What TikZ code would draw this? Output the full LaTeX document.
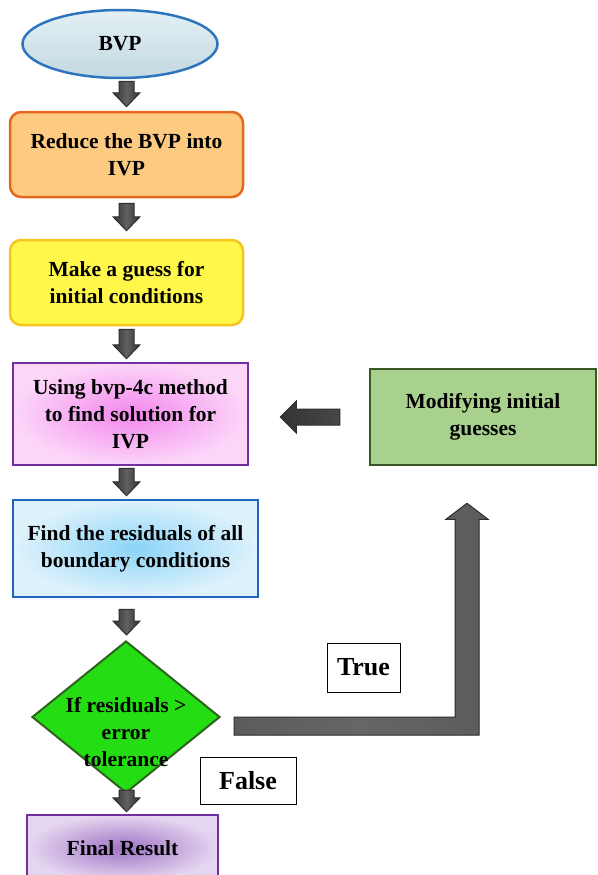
\documentclass[tikz,border=0pt]{standalone}
\usepackage{fontspec}
\setmainfont{Liberation Serif}
\usetikzlibrary{shapes.geometric,calc}

\definecolor{bvpfill}{RGB}{205,228,236}
\definecolor{bvpline}{RGB}{46,117,190}
\definecolor{orfill}{RGB}{252,202,128}
\definecolor{orline}{RGB}{228,104,30}
\definecolor{yefill}{RGB}{255,248,74}
\definecolor{yeline}{RGB}{246,196,30}
\definecolor{pkin}{RGB}{242,135,236}
\definecolor{pkout}{RGB}{252,214,249}
\definecolor{purline}{RGB}{112,48,160}
\definecolor{blin}{RGB}{140,212,247}
\definecolor{blout}{RGB}{222,242,252}
\definecolor{blline}{RGB}{31,100,193}
\definecolor{grfill}{RGB}{36,221,18}
\definecolor{grline}{RGB}{44,100,30}
\definecolor{lvin}{RGB}{160,114,196}
\definecolor{lvout}{RGB}{228,214,240}
\definecolor{mdfill}{RGB}{169,209,142}
\definecolor{mdline}{RGB}{56,87,35}

\tikzset{
  every node/.style={font=\fontsize{21.5}{27}\selectfont\bfseries, align=center, inner sep=0pt},
  stepbox/.style={draw, line width=2.5pt, minimum width=#1},
  tagbox/.style={draw=black, line width=1pt, fill=white, font=\fontsize{26}{30}\selectfont\bfseries},
  blockarrow/.style={draw=black!82, line width=1pt, left color=black!80, right color=black!80, middle color=black!62},
}

% small block arrow pointing down, from #1 to tip #2
\newcommand{\downblock}[2]{%
  \path[blockarrow] let \p1=#1, \p2=#2 in
    (\x1-7.5pt,\y1) -- (\x1+7.5pt,\y1) -- (\x1+7.5pt,\y2+14pt) -- (\x1+13.5pt,\y2+14pt)
    -- (\x1,\y2) -- (\x1-13.5pt,\y2+14pt) -- (\x1-7.5pt,\y2+14pt) -- cycle;}

\begin{document}
\begin{tikzpicture}[x=1pt,y=-1pt]
\useasboundingbox (0,0) rectangle (597,875);
\coordinate (spine) at (126.5,0);

% main column
\node[ellipse, draw=bvpline, line width=2.5pt, top color=bvpfill!55!white, bottom color=bvpfill!95!black,
      minimum width=195, minimum height=68] (bvp) at (120,44) {BVP};
\node[stepbox=233, draw=orline, fill=orfill, rounded corners=11pt, minimum height=85] (reduce) at (126.5,154.5)
  {Reduce the BVP into\\IVP};
\node[stepbox=233, draw=yeline, fill=yefill, rounded corners=11pt, minimum height=85] (guess) at (126.5,282.5)
  {Make a guess for\\initial conditions};
\node[stepbox=235, draw=purline, inner color=pkin, outer color=pkout, minimum height=102] (solve) at (130.5,414)
  {Using bvp-4c method\\to find solution for\\IVP};
\node[stepbox=245, draw=blline, inner color=blin, outer color=blout, minimum height=97] (resid) at (135.5,548.5)
  {Find the residuals of all\\boundary conditions};
\node[diamond, draw=grline, line width=2pt, fill=grfill, minimum width=188, minimum height=152] (check) at (126,717) {};
\node (checktxt) at ([yshift=-15pt]check.center) {If residuals >\\error\\tolerance};
\node[stepbox=191, draw=purline, inner color=lvin, outer color=lvout, minimum height=66] (final) at (122.5,848)
  {Final Result};

% side branch
\node[stepbox=226, draw=mdline, fill=mdfill, minimum height=96] (modify) at (483,417)
  {Modifying initial\\guesses};
\node[tagbox, minimum width=73, minimum height=49] (truelbl) at (363.5,667.5) {True};
\node[tagbox, minimum width=96, minimum height=47] (falselbl) at (248,780.5) {False};

% arrows down the column
\downblock{([yshift=-2pt]bvp.south -| spine)}{([yshift=4pt]reduce.north -| spine)}
\downblock{([yshift=-5pt]reduce.south -| spine)}{([yshift=8pt]guess.north -| spine)}
\downblock{([yshift=-3pt]guess.south -| spine)}{([yshift=3pt]solve.north -| spine)}
\downblock{([yshift=-2pt]solve.south -| spine)}{([yshift=3pt]resid.north -| spine)}
\downblock{([yshift=-11pt]resid.south -| spine)}{([yshift=5pt]check.north -| spine)}
\downblock{([yshift=4pt]check.south -| spine)}{([yshift=2pt]final.north -| spine)}

% loop back to the solver
\path[blockarrow, left color=black!80, middle color=black!45, right color=black!72]
  let \p1=([xshift=-29pt]modify.west), \p2=([xshift=31pt]solve.east) in
  (\x1,\y1+8pt) -- (\x2+16pt,\y1+8pt) -- (\x2+16pt,\y1+16pt) -- (\x2,\y1)
  -- (\x2+16pt,\y1-16pt) -- (\x2+16pt,\y1-8pt) -- (\x1,\y1-8pt) -- cycle;
\path[blockarrow, fill=black!64, left color=black!64, right color=black!64, middle color=black!60]
  let \p1=([xshift=13pt,yshift=-9pt]check.east), \p2=([xshift=-16pt,yshift=-37pt]modify.south) in
  (\x1,\y1+9pt) -- (\x2-12pt,\y1+9pt) -- (\x2-12pt,\y2-16pt) -- (\x2-21pt,\y2-16pt) -- (\x2,\y2)
  -- (\x2+21pt,\y2-16pt) -- (\x2+12pt,\y2-16pt) -- (\x2+12pt,\y1-9pt) -- (\x1,\y1-9pt) -- cycle;
\end{tikzpicture}
\end{document}
